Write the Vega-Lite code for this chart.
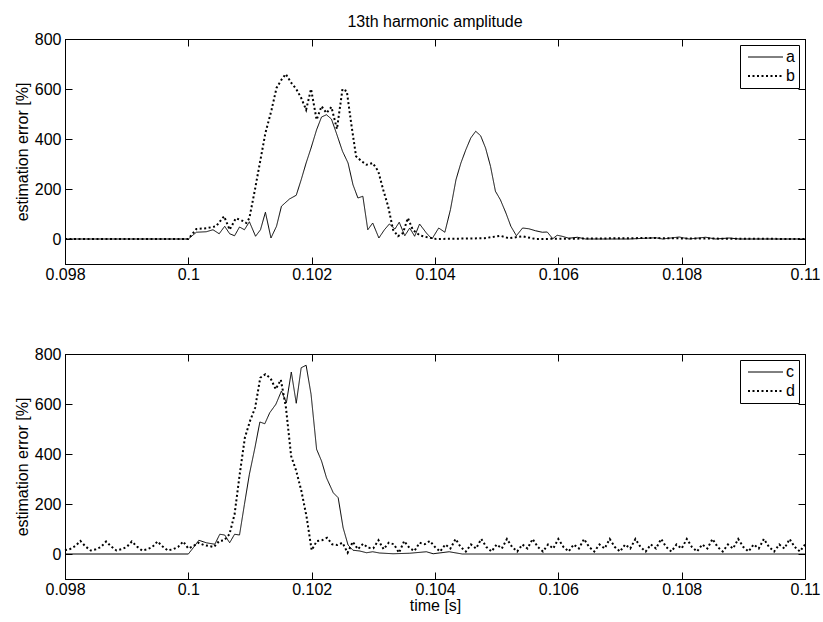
{
  "$schema": "https://vega.github.io/schema/vega-lite/v6.json",
  "padding": {"left": 13, "top": 13, "right": 0, "bottom": 0},
  "background": "white",
  "config": {
    "font": "Liberation Sans",
    "view": {"stroke": "black", "strokeWidth": 1},
    "axis": {"domainColor": "black", "tickColor": "black", "labelColor": "black", "titleColor": "black", "labelFont": "Liberation Sans", "titleFont": "Liberation Sans", "labelFontSize": 16, "titleFontSize": 16, "titleFontWeight": "normal", "grid": false, "tickSize": -7, "labelPadding": 11, "labelFlush": false, "labelOverlap": false},
    "legend": {"labelFont": "Liberation Sans", "labelFontSize": 16, "labelColor": "black", "title": null, "orient": "top-right", "offset": 6, "strokeColor": "black", "fillColor": "white", "padding": 4, "symbolSize": 64, "symbolType": "M-1,0H7.75", "symbolStrokeColor": "black", "symbolFillColor": "transparent", "labelOffset": 26, "rowPadding": 3, "cornerRadius": 0}
  },
  "datasets": {
    "top": [
      {"s":"a","t":0.098,"v":0},{"s":"a","t":0.1,"v":0},{"s":"a","t":0.10013,"v":27},{"s":"a","t":0.10029,"v":29},{"s":"a","t":0.1004,"v":37},{"s":"a","t":0.1005,"v":21},{"s":"a","t":0.10059,"v":51},{"s":"a","t":0.10067,"v":21},{"s":"a","t":0.10075,"v":13},{"s":"a","t":0.10083,"v":48},{"s":"a","t":0.10091,"v":37},{"s":"a","t":0.10099,"v":69},{"s":"a","t":0.10109,"v":11},{"s":"a","t":0.10117,"v":37},{"s":"a","t":0.10125,"v":107},{"s":"a","t":0.10134,"v":4},{"s":"a","t":0.10143,"v":51},{"s":"a","t":0.10151,"v":131},{"s":"a","t":0.10164,"v":160},{"s":"a","t":0.10175,"v":175},{"s":"a","t":0.10183,"v":237},{"s":"a","t":0.10191,"v":304},{"s":"a","t":0.10199,"v":364},{"s":"a","t":0.10208,"v":437},{"s":"a","t":0.10216,"v":488},{"s":"a","t":0.10224,"v":497},{"s":"a","t":0.10232,"v":480},{"s":"a","t":0.1024,"v":424},{"s":"a","t":0.1025,"v":351},{"s":"a","t":0.10259,"v":304},{"s":"a","t":0.10267,"v":217},{"s":"a","t":0.10275,"v":164},{"s":"a","t":0.10283,"v":171},{"s":"a","t":0.10291,"v":37},{"s":"a","t":0.10299,"v":64},{"s":"a","t":0.10309,"v":4},{"s":"a","t":0.10318,"v":37},{"s":"a","t":0.10326,"v":60},{"s":"a","t":0.10335,"v":40},{"s":"a","t":0.10342,"v":67},{"s":"a","t":0.10351,"v":13},{"s":"a","t":0.10359,"v":44},{"s":"a","t":0.10367,"v":11},{"s":"a","t":0.10375,"v":60},{"s":"a","t":0.10386,"v":24},{"s":"a","t":0.10395,"v":0},{"s":"a","t":0.10406,"v":44},{"s":"a","t":0.10416,"v":27},{"s":"a","t":0.10425,"v":117},{"s":"a","t":0.10434,"v":237},{"s":"a","t":0.10442,"v":304},{"s":"a","t":0.1045,"v":357},{"s":"a","t":0.10458,"v":404},{"s":"a","t":0.10466,"v":431},{"s":"a","t":0.10474,"v":413},{"s":"a","t":0.10482,"v":364},{"s":"a","t":0.1049,"v":291},{"s":"a","t":0.10498,"v":191},{"s":"a","t":0.10506,"v":157},{"s":"a","t":0.10515,"v":104},{"s":"a","t":0.10523,"v":51},{"s":"a","t":0.10532,"v":13},{"s":"a","t":0.10542,"v":44},{"s":"a","t":0.10552,"v":41},{"s":"a","t":0.10563,"v":33},{"s":"a","t":0.10574,"v":27},{"s":"a","t":0.10582,"v":28},{"s":"a","t":0.10591,"v":1},{"s":"a","t":0.10598,"v":15},{"s":"a","t":0.10606,"v":11},{"s":"a","t":0.10617,"v":3},{"s":"a","t":0.10631,"v":7},{"s":"a","t":0.10644,"v":0},{"s":"a","t":0.10715,"v":0},{"s":"a","t":0.10758,"v":5},{"s":"a","t":0.10769,"v":0},{"s":"a","t":0.10796,"v":8},{"s":"a","t":0.10812,"v":0},{"s":"a","t":0.10839,"v":7},{"s":"a","t":0.10855,"v":0},{"s":"a","t":0.10877,"v":4},{"s":"a","t":0.10893,"v":0},{"s":"a","t":0.11,"v":0},
      {"s":"b","t":0.098,"v":0},{"s":"b","t":0.1,"v":0},{"s":"b","t":0.10013,"v":40},{"s":"b","t":0.10029,"v":43},{"s":"b","t":0.10045,"v":51},{"s":"b","t":0.10058,"v":91},{"s":"b","t":0.10067,"v":37},{"s":"b","t":0.10077,"v":83},{"s":"b","t":0.10086,"v":75},{"s":"b","t":0.10094,"v":64},{"s":"b","t":0.10099,"v":84},{"s":"b","t":0.10108,"v":197},{"s":"b","t":0.10116,"v":304},{"s":"b","t":0.10125,"v":424},{"s":"b","t":0.10135,"v":517},{"s":"b","t":0.10143,"v":604},{"s":"b","t":0.10151,"v":637},{"s":"b","t":0.10158,"v":660},{"s":"b","t":0.10167,"v":624},{"s":"b","t":0.10175,"v":600},{"s":"b","t":0.10183,"v":564},{"s":"b","t":0.10191,"v":517},{"s":"b","t":0.10199,"v":600},{"s":"b","t":0.10208,"v":477},{"s":"b","t":0.10216,"v":531},{"s":"b","t":0.10224,"v":504},{"s":"b","t":0.10232,"v":528},{"s":"b","t":0.10241,"v":440},{"s":"b","t":0.1025,"v":600},{"s":"b","t":0.10257,"v":591},{"s":"b","t":0.10264,"v":464},{"s":"b","t":0.10272,"v":331},{"s":"b","t":0.10281,"v":311},{"s":"b","t":0.10289,"v":297},{"s":"b","t":0.10299,"v":304},{"s":"b","t":0.10308,"v":271},{"s":"b","t":0.10316,"v":197},{"s":"b","t":0.10324,"v":131},{"s":"b","t":0.10332,"v":37},{"s":"b","t":0.1034,"v":11},{"s":"b","t":0.10348,"v":24},{"s":"b","t":0.10356,"v":84},{"s":"b","t":0.10364,"v":37},{"s":"b","t":0.10375,"v":15},{"s":"b","t":0.10386,"v":8},{"s":"b","t":0.10402,"v":0},{"s":"b","t":0.1048,"v":3},{"s":"b","t":0.10506,"v":13},{"s":"b","t":0.1052,"v":3},{"s":"b","t":0.10542,"v":11},{"s":"b","t":0.10563,"v":0},{"s":"b","t":0.1075,"v":4},{"s":"b","t":0.1081,"v":2},{"s":"b","t":0.11,"v":0}
    ],
    "bottom": [
      {"s":"c","t":0.098,"v":0},{"s":"c","t":0.1,"v":0},{"s":"c","t":0.10008,"v":25},{"s":"c","t":0.10017,"v":55},{"s":"c","t":0.10029,"v":45},{"s":"c","t":0.10043,"v":39},{"s":"c","t":0.10051,"v":79},{"s":"c","t":0.10059,"v":76},{"s":"c","t":0.10067,"v":45},{"s":"c","t":0.10075,"v":79},{"s":"c","t":0.10083,"v":76},{"s":"c","t":0.10091,"v":199},{"s":"c","t":0.10099,"v":319},{"s":"c","t":0.10108,"v":425},{"s":"c","t":0.10116,"v":528},{"s":"c","t":0.10124,"v":521},{"s":"c","t":0.10132,"v":565},{"s":"c","t":0.10142,"v":599},{"s":"c","t":0.10151,"v":652},{"s":"c","t":0.10159,"v":605},{"s":"c","t":0.10167,"v":728},{"s":"c","t":0.10175,"v":603},{"s":"c","t":0.10183,"v":745},{"s":"c","t":0.10191,"v":755},{"s":"c","t":0.10199,"v":639},{"s":"c","t":0.10208,"v":419},{"s":"c","t":0.10216,"v":372},{"s":"c","t":0.10224,"v":305},{"s":"c","t":0.10235,"v":245},{"s":"c","t":0.10243,"v":225},{"s":"c","t":0.10251,"v":105},{"s":"c","t":0.10259,"v":36},{"s":"c","t":0.10267,"v":15},{"s":"c","t":0.10278,"v":12},{"s":"c","t":0.10289,"v":5},{"s":"c","t":0.10299,"v":9},{"s":"c","t":0.1031,"v":4},{"s":"c","t":0.10332,"v":1},{"s":"c","t":0.10359,"v":3},{"s":"c","t":0.10386,"v":9},{"s":"c","t":0.10397,"v":1},{"s":"c","t":0.10423,"v":9},{"s":"c","t":0.10444,"v":0},{"s":"c","t":0.11,"v":0},
      {"s":"d","t":0.098,"v":15},{"s":"d","t":0.0980833,"v":20},{"s":"d","t":0.0981667,"v":32},{"s":"d","t":0.09825,"v":52},{"s":"d","t":0.0983333,"v":30},{"s":"d","t":0.0984167,"v":14},{"s":"d","t":0.0985,"v":19},{"s":"d","t":0.0985833,"v":28},{"s":"d","t":0.0986667,"v":50},{"s":"d","t":0.09875,"v":30},{"s":"d","t":0.0988333,"v":14},{"s":"d","t":0.0989167,"v":19},{"s":"d","t":0.099,"v":28},{"s":"d","t":0.0990833,"v":50},{"s":"d","t":0.0991667,"v":30},{"s":"d","t":0.09925,"v":14},{"s":"d","t":0.0993333,"v":19},{"s":"d","t":0.0994167,"v":28},{"s":"d","t":0.0995,"v":50},{"s":"d","t":0.0995833,"v":30},{"s":"d","t":0.0996667,"v":14},{"s":"d","t":0.09975,"v":19},{"s":"d","t":0.0998333,"v":28},{"s":"d","t":0.0999167,"v":50},
      {"s":"d","t":0.1,"v":22},{"s":"d","t":0.1000833,"v":32},{"s":"d","t":0.1001667,"v":45},{"s":"d","t":0.10025,"v":36},{"s":"d","t":0.1003333,"v":32},{"s":"d","t":0.1004167,"v":28},{"s":"d","t":0.1005,"v":52},{"s":"d","t":0.1005833,"v":55},{"s":"d","t":0.1006667,"v":79},{"s":"d","t":0.10075,"v":159},{"s":"d","t":0.1008333,"v":319},{"s":"d","t":0.1009167,"v":465},{"s":"d","t":0.101,"v":532},{"s":"d","t":0.1010833,"v":585},{"s":"d","t":0.1011667,"v":705},{"s":"d","t":0.10125,"v":719},{"s":"d","t":0.1013333,"v":703},{"s":"d","t":0.1014167,"v":659},{"s":"d","t":0.1015,"v":697},{"s":"d","t":0.1015833,"v":585},{"s":"d","t":0.1016667,"v":392},{"s":"d","t":0.10175,"v":332},{"s":"d","t":0.1018333,"v":252},{"s":"d","t":0.1019167,"v":150},{"s":"d","t":0.102,"v":15},{"s":"d","t":0.1020833,"v":52},{"s":"d","t":0.1021667,"v":55},{"s":"d","t":0.10225,"v":65},{"s":"d","t":0.1023333,"v":39},{"s":"d","t":0.1024167,"v":36},{"s":"d","t":0.1025,"v":45},{"s":"d","t":0.1025833,"v":5},{"s":"d","t":0.1026667,"v":49},{"s":"d","t":0.10275,"v":19},{"s":"d","t":0.1028333,"v":41},{"s":"d","t":0.1029167,"v":25},{"s":"d","t":0.103,"v":23},{"s":"d","t":0.1030833,"v":55},{"s":"d","t":0.1031667,"v":19},{"s":"d","t":0.10325,"v":45},{"s":"d","t":0.1033333,"v":39},{"s":"d","t":0.1034167,"v":5},{"s":"d","t":0.1035,"v":52},{"s":"d","t":0.1035833,"v":25},{"s":"d","t":0.1036667,"v":12},{"s":"d","t":0.10375,"v":45},{"s":"d","t":0.1038333,"v":39},{"s":"d","t":0.1039167,"v":52},
      {"s":"d","t":0.104,"v":28},{"s":"d","t":0.1040833,"v":10},{"s":"d","t":0.1041667,"v":38},{"s":"d","t":0.10425,"v":22},{"s":"d","t":0.1043333,"v":60},{"s":"d","t":0.1044167,"v":28},{"s":"d","t":0.1045,"v":10},{"s":"d","t":0.1045833,"v":38},{"s":"d","t":0.1046667,"v":22},{"s":"d","t":0.10475,"v":60},{"s":"d","t":0.1048333,"v":28},{"s":"d","t":0.1049167,"v":10},{"s":"d","t":0.105,"v":38},{"s":"d","t":0.1050833,"v":22},{"s":"d","t":0.1051667,"v":60},{"s":"d","t":0.10525,"v":28},{"s":"d","t":0.1053333,"v":10},{"s":"d","t":0.1054167,"v":38},{"s":"d","t":0.1055,"v":22},{"s":"d","t":0.1055833,"v":60},{"s":"d","t":0.1056667,"v":28},{"s":"d","t":0.10575,"v":10},{"s":"d","t":0.1058333,"v":38},{"s":"d","t":0.1059167,"v":22},
      {"s":"d","t":0.106,"v":60},{"s":"d","t":0.1060833,"v":28},{"s":"d","t":0.1061667,"v":10},{"s":"d","t":0.10625,"v":38},{"s":"d","t":0.1063333,"v":22},{"s":"d","t":0.1064167,"v":60},{"s":"d","t":0.1065,"v":28},{"s":"d","t":0.1065833,"v":10},{"s":"d","t":0.1066667,"v":38},{"s":"d","t":0.10675,"v":22},{"s":"d","t":0.1068333,"v":60},{"s":"d","t":0.1069167,"v":28},{"s":"d","t":0.107,"v":10},{"s":"d","t":0.1070833,"v":38},{"s":"d","t":0.1071667,"v":22},{"s":"d","t":0.10725,"v":60},{"s":"d","t":0.1073333,"v":28},{"s":"d","t":0.1074167,"v":10},{"s":"d","t":0.1075,"v":38},{"s":"d","t":0.1075833,"v":22},{"s":"d","t":0.1076667,"v":60},{"s":"d","t":0.10775,"v":28},{"s":"d","t":0.1078333,"v":10},{"s":"d","t":0.1079167,"v":38},
      {"s":"d","t":0.108,"v":22},{"s":"d","t":0.1080833,"v":60},{"s":"d","t":0.1081667,"v":28},{"s":"d","t":0.10825,"v":10},{"s":"d","t":0.1083333,"v":38},{"s":"d","t":0.1084167,"v":22},{"s":"d","t":0.1085,"v":60},{"s":"d","t":0.1085833,"v":28},{"s":"d","t":0.1086667,"v":10},{"s":"d","t":0.10875,"v":38},{"s":"d","t":0.1088333,"v":22},{"s":"d","t":0.1089167,"v":60},{"s":"d","t":0.109,"v":28},{"s":"d","t":0.1090833,"v":10},{"s":"d","t":0.1091667,"v":38},{"s":"d","t":0.10925,"v":22},{"s":"d","t":0.1093333,"v":60},{"s":"d","t":0.1094167,"v":28},{"s":"d","t":0.1095,"v":10},{"s":"d","t":0.1095833,"v":38},{"s":"d","t":0.1096667,"v":22},{"s":"d","t":0.10975,"v":60},{"s":"d","t":0.1098333,"v":28},{"s":"d","t":0.1099167,"v":10},{"s":"d","t":0.11,"v":38}
    ]
  },
  "spacing": 62,
  "resolve": {"scale": {"strokeDash": "independent", "strokeWidth": "independent"}, "legend": {"strokeDash": "independent", "strokeWidth": "independent"}},
  "vconcat": [
    {
      "title": {"text": "13th harmonic amplitude", "fontSize": 16, "fontWeight": "normal", "font": "Liberation Sans", "color": "black", "anchor": "middle", "offset": 1},
      "width": 740, "height": 225,
      "data": {"name": "top"},
      "layer": [
        {
          "mark": {"type": "line", "color": "black", "strokeCap": "butt"},
          "encoding": {
            "x": {"field": "t", "type": "quantitative", "scale": {"domain": [0.098, 0.11], "nice": false, "zero": false}, "axis": {"orient": "bottom", "values": [0.098, 0.1, 0.102, 0.104, 0.106, 0.108, 0.11], "format": "~g", "title": null, "labelPadding": 9}},
            "y": {"field": "v", "type": "quantitative", "scale": {"domain": [-100, 800], "nice": false, "zero": false}, "axis": {"orient": "left", "values": [0, 200, 400, 600, 800], "title": "estimation error [%]", "titlePadding": 4}},
            "strokeDash": {"field": "s", "type": "nominal", "scale": {"domain": ["a", "b"], "range": [[1, 0], [2, 2.5]]}},
            "strokeWidth": {"field": "s", "type": "nominal", "scale": {"domain": ["a", "b"], "range": [1, 2]}}
          }
        },
        {
          "mark": {"type": "line", "opacity": 0},
          "encoding": {
            "x": {"field": "t", "type": "quantitative", "axis": {"orient": "top", "values": [0.098, 0.1, 0.102, 0.104, 0.106, 0.108, 0.11], "labels": false, "title": null}},
            "y": {"field": "v", "type": "quantitative", "axis": {"orient": "right", "values": [0, 200, 400, 600, 800], "labels": false, "title": null}}
          }
        }
      ],
      "resolve": {"axis": {"x": "independent", "y": "independent"}}
    },
    {
      "width": 740, "height": 225,
      "data": {"name": "bottom"},
      "layer": [
        {
          "mark": {"type": "line", "color": "black", "strokeCap": "butt"},
          "encoding": {
            "x": {"field": "t", "type": "quantitative", "scale": {"domain": [0.098, 0.11], "nice": false, "zero": false}, "axis": {"orient": "bottom", "values": [0.098, 0.1, 0.102, 0.104, 0.106, 0.108, 0.11], "format": "~g", "title": "time [s]", "labelPadding": 9, "titlePadding": 0}},
            "y": {"field": "v", "type": "quantitative", "scale": {"domain": [-100, 800], "nice": false, "zero": false}, "axis": {"orient": "left", "values": [0, 200, 400, 600, 800], "title": "estimation error [%]", "titlePadding": 4}},
            "strokeDash": {"field": "s", "type": "nominal", "scale": {"domain": ["c", "d"], "range": [[1, 0], [2, 2.5]]}},
            "strokeWidth": {"field": "s", "type": "nominal", "scale": {"domain": ["c", "d"], "range": [1, 2]}}
          }
        },
        {
          "mark": {"type": "line", "opacity": 0},
          "encoding": {
            "x": {"field": "t", "type": "quantitative", "axis": {"orient": "top", "values": [0.098, 0.1, 0.102, 0.104, 0.106, 0.108, 0.11], "labels": false, "title": null}},
            "y": {"field": "v", "type": "quantitative", "axis": {"orient": "right", "values": [0, 200, 400, 600, 800], "labels": false, "title": null}}
          }
        }
      ],
      "resolve": {"axis": {"x": "independent", "y": "independent"}}
    }
  ]
}
